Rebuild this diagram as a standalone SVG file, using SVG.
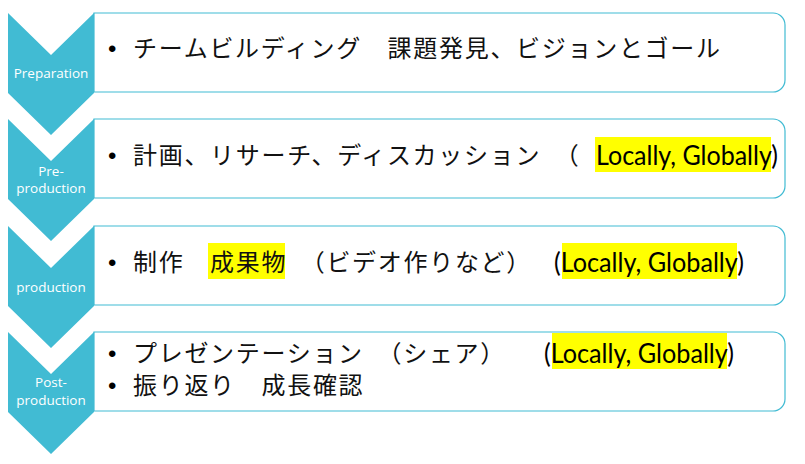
<svg xmlns="http://www.w3.org/2000/svg" width="805" height="464" viewBox="0 0 805 464">
<style>
.box{fill:#ffffff;stroke:#41BBD3;stroke-width:1.2}
.chev{fill:#41BBD3}
.lbl{font-family:"Open Sans","Noto Sans",sans-serif;font-size:13.5px;fill:#ffffff;text-anchor:middle}
.jp{font-family:"Noto Sans CJK JP","Noto Sans CJK SC",sans-serif;font-size:24px;letter-spacing:1.7px;fill:#111111}
.lat{font-family:Lato,"Liberation Sans",sans-serif;font-size:26px;fill:#000000}
.bul{font-family:"Liberation Sans",sans-serif;font-size:24px;fill:#000000}
.hl{fill:#FFFF00}
</style>
<g id="connectors"></g>
<g id="step1">
<path class="box" d="M94,13 H773 A12,12 0 0 1 785,25 V80 A12,12 0 0 1 773,92 H94 Z"/>
<path class="chev" d="M8,13 L51,55 L94,13 L94,93 L51,135 L8,93 Z"/>
<text class="lbl" x="51" y="78">Preparation</text>
<text class="bul" x="108" y="57">•</text>
<text class="jp" x="133" y="57">チームビルディング　課題発見、ビジョンとゴール</text>
</g>
<g id="step2">
<path class="box" d="M94,119 H773 A12,12 0 0 1 785,131 V186 A12,12 0 0 1 773,198 H94 Z"/>
<path class="chev" d="M8,119 L51,161 L94,119 L94,199 L51,241 L8,199 Z"/>
<text class="lbl" x="51" y="176">Pre-</text>
<text class="lbl" x="51" y="193">production</text>
<text class="bul" x="108" y="164">•</text>
<text class="jp" x="133" y="164">計画、リサーチ、ディスカッション　（</text>
<rect class="hl" x="595" y="137" width="176" height="35"/>
<text class="lat" x="596" y="165" textLength="182" lengthAdjust="spacingAndGlyphs">Locally, Globally)</text>
</g>
<g id="step3">
<path class="box" d="M94,226 H773 A12,12 0 0 1 785,238 V293 A12,12 0 0 1 773,305 H94 Z"/>
<path class="chev" d="M8,226 L51,268 L94,226 L94,306 L51,348 L8,306 Z"/>
<text class="lbl" x="51" y="292">production</text>
<text class="bul" x="108" y="271">•</text>
<text class="jp" x="133" y="271">制作　</text>
<rect class="hl" x="208" y="243" width="77" height="36"/>
<text class="jp" x="210" y="271">成果物</text>
<text class="jp" x="287" y="271" letter-spacing="2.6">　（ビデオ作りなど）</text>
<rect class="hl" x="562" y="243" width="175" height="36"/>
<text class="lat" x="554" y="272" textLength="190" lengthAdjust="spacingAndGlyphs">(Locally, Globally)</text>
</g>
<g id="step4">
<path class="box" d="M94,332 H773 A12,12 0 0 1 785,344 V399 A12,12 0 0 1 773,411 H94 Z"/>
<path class="chev" d="M8,332 L51,374 L94,332 L94,412 L51,454 L8,412 Z"/>
<text class="lbl" x="51" y="387">Post-</text>
<text class="lbl" x="51" y="405">production</text>
<text class="bul" x="108" y="362">•</text>
<text class="jp" x="133" y="362">プレゼンテーション　（シェア）　</text>
<rect class="hl" x="552" y="333" width="175" height="36"/>
<text class="lat" x="544" y="363" textLength="190" lengthAdjust="spacingAndGlyphs">(Locally, Globally)</text>
<text class="bul" x="108" y="394">•</text>
<text class="jp" x="133" y="394">振り返り　成長確認</text>
</g>
</svg>
